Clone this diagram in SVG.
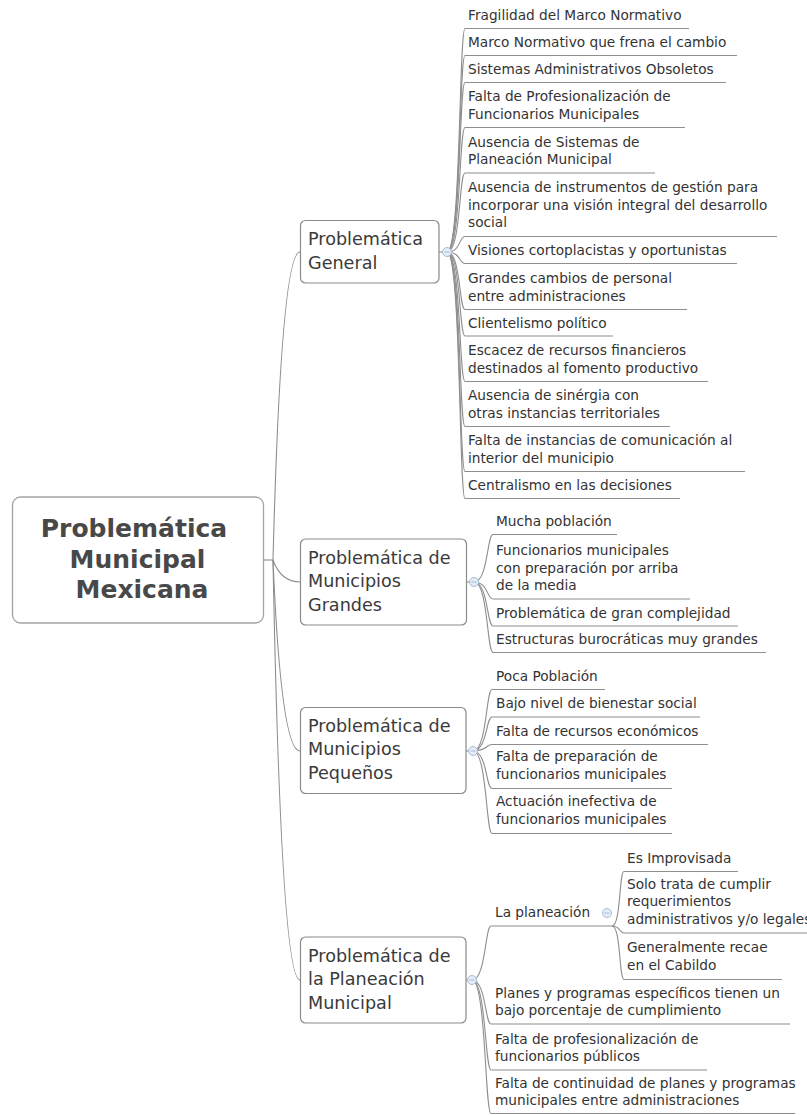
<svg xmlns="http://www.w3.org/2000/svg" width="807" height="1115" viewBox="0 0 807 1115">
<defs>
<style>
.bg{fill:#ffffff}
.box{fill:#ffffff;stroke:#8a8a8a;stroke-width:1.2}
.root{fill:#ffffff;stroke:#a3a3a3;stroke-width:1.3}
.ln{fill:none;stroke:#8e8e8e;stroke-width:1.1}
.rt{font-family:"DejaVu Sans","Liberation Sans",sans-serif;font-size:25px;font-weight:bold;fill:#484848;text-anchor:middle}
.bt{font-family:"DejaVu Sans","Liberation Sans",sans-serif;font-size:17.6px;fill:#3a3a3a}
.lt{font-family:"DejaVu Sans","Liberation Sans",sans-serif;font-size:13.7px;fill:#333333}
.dot{fill:#e4ecf6;stroke:#a6bcd8;stroke-width:1}
.dm{stroke:#a6bcd8;stroke-width:1}
</style>
</defs>
<rect class="bg" x="0" y="0" width="807" height="1115"/>

<g id="connectors">
<path class="ln" d="M263,560 H273"/>
<path class="ln" d="M273,560 Q281,252 300,252"/>
<path class="ln" d="M273,560 Q281,582 300,582"/>
<path class="ln" d="M273,560 Q281,751 300,751"/>
<path class="ln" d="M273,560 Q281,980 300,980"/>
<path class="ln" d="M439,252 H447"/>
<path class="ln" d="M466,582 H474"/>
<path class="ln" d="M466,751 H473"/>
<path class="ln" d="M466,980 H472"/>
<path class="ln" d="M447,252 C461,252 459,28.5 465,28.5 H689"/>
<path class="ln" d="M447,252 C461,252 459,55.5 465,55.5 H737"/>
<path class="ln" d="M447,252 C461,252 459,82.5 465,82.5 H726"/>
<path class="ln" d="M447,252 C461,252 459,127.5 465,127.5 H685"/>
<path class="ln" d="M447,252 C461,252 459,173 465,173 H655"/>
<path class="ln" d="M447,252 C461,252 459,236.5 465,236.5 H777"/>
<path class="ln" d="M447,252 C461,252 459,263.5 465,263.5 H737"/>
<path class="ln" d="M447,252 C461,252 459,309.5 465,309.5 H687"/>
<path class="ln" d="M447,252 C461,252 459,336 465,336 H613"/>
<path class="ln" d="M447,252 C461,252 459,381.5 465,381.5 H708"/>
<path class="ln" d="M447,252 C461,252 459,426.5 465,426.5 H670"/>
<path class="ln" d="M447,252 C461,252 459,471.5 465,471.5 H745"/>
<path class="ln" d="M447,252 C461,252 459,498.5 465,498.5 H680"/>
<path class="ln" d="M474,582 C488,582 487,534.5 493,534.5 H617"/>
<path class="ln" d="M474,582 C488,582 487,599 493,599 H690"/>
<path class="ln" d="M474,582 C488,582 487,626 493,626 H738"/>
<path class="ln" d="M474,582 C488,582 487,652.5 493,652.5 H766"/>
<path class="ln" d="M473,751 C487,751 486,689.5 492,689.5 H605"/>
<path class="ln" d="M473,751 C487,751 486,717 492,717 H700"/>
<path class="ln" d="M473,751 C487,751 486,744.5 492,744.5 H708"/>
<path class="ln" d="M473,751 C487,751 486,788.5 492,788.5 H672"/>
<path class="ln" d="M473,751 C487,751 486,833.5 492,833.5 H672"/>
<path class="ln" d="M472,980 C486,980 485,926 491,926 H612"/>
<path class="ln" d="M472,980 C486,980 485,1024 491,1024 H790"/>
<path class="ln" d="M472,980 C486,980 485,1070 491,1070 H707"/>
<path class="ln" d="M472,980 C486,980 485,1113.5 491,1113.5 H795"/>
<path class="ln" d="M612,926 C621,926 619,871.5 624,871.5 H738"/>
<path class="ln" d="M612,926 C621,926 619,933 624,933 H815"/>
<path class="ln" d="M612,926 C621,926 619,979.5 624,979.5 H782"/>
</g>

<g id="root">
<rect class="root" x="12.5" y="497" width="251" height="126" rx="8"/>
<text class="rt" x="134" y="537">Problemática</text>
<text class="rt" x="137.5" y="568">Municipal</text>
<text class="rt" x="142" y="598">Mexicana</text>
</g>

<g id="general">
<rect class="box" x="300.5" y="220.5" width="138.5" height="62.5" rx="5"/>
<text class="bt" x="308" y="245">Problemática</text>
<text class="bt" x="308" y="268.5">General</text>
<circle class="dot" cx="447" cy="252" r="4.5"/><path class="dm" d="M444.5,252 H449.5"/>
</g>

<g id="grandes">
<rect class="box" x="300.5" y="539" width="166" height="86" rx="5"/>
<text class="bt" x="308" y="563.5">Problemática de</text>
<text class="bt" x="308" y="587">Municipios</text>
<text class="bt" x="308" y="610.5">Grandes</text>
<circle class="dot" cx="474" cy="582" r="4.5"/><path class="dm" d="M471.5,582 H476.5"/>
</g>

<g id="pequenos">
<rect class="box" x="300.5" y="707.5" width="165.5" height="86" rx="5"/>
<text class="bt" x="308" y="731.5">Problemática de</text>
<text class="bt" x="308" y="755">Municipios</text>
<text class="bt" x="308" y="778.5">Pequeños</text>
<circle class="dot" cx="473" cy="751" r="4.5"/><path class="dm" d="M470.5,751 H475.5"/>
</g>

<g id="planeacion">
<rect class="box" x="300.5" y="937" width="165.5" height="86" rx="5"/>
<text class="bt" x="308" y="961.5">Problemática de</text>
<text class="bt" x="308" y="985">la Planeación</text>
<text class="bt" x="308" y="1008.5">Municipal</text>
<circle class="dot" cx="472" cy="980" r="4.5"/><path class="dm" d="M469.5,980 H474.5"/>
</g>

<g id="general-leaves">
<text class="lt" x="468" y="20">Fragilidad del Marco Normativo</text>
<text class="lt" x="468" y="47">Marco Normativo que frena el cambio</text>
<text class="lt" x="468" y="74">Sistemas Administrativos Obsoletos</text>
<text class="lt" x="468" y="101">Falta de Profesionalización de</text>
<text class="lt" x="468" y="118.5">Funcionarios Municipales</text>
<text class="lt" x="468" y="146.5">Ausencia de Sistemas de</text>
<text class="lt" x="468" y="164">Planeación Municipal</text>
<text class="lt" x="468" y="192">Ausencia de instrumentos de gestión para</text>
<text class="lt" x="468" y="209.5">incorporar una visión integral del desarrollo</text>
<text class="lt" x="468" y="227">social</text>
<text class="lt" x="468" y="255">Visiones cortoplacistas y oportunistas</text>
<text class="lt" x="468" y="283">Grandes cambios de personal</text>
<text class="lt" x="468" y="300.5">entre administraciones</text>
<text class="lt" x="468" y="327.5">Clientelismo político</text>
<text class="lt" x="468" y="355">Escacez de recursos financieros</text>
<text class="lt" x="468" y="372.5">destinados al fomento productivo</text>
<text class="lt" x="468" y="400">Ausencia de sinérgia con</text>
<text class="lt" x="468" y="417.5">otras instancias territoriales</text>
<text class="lt" x="468" y="445">Falta de instancias de comunicación al</text>
<text class="lt" x="468" y="462.5">interior del municipio</text>
<text class="lt" x="468" y="490">Centralismo en las decisiones</text>
</g>

<g id="grandes-leaves">
<text class="lt" x="496" y="526">Mucha población</text>
<text class="lt" x="496" y="555">Funcionarios municipales</text>
<text class="lt" x="496" y="572.5">con preparación por arriba</text>
<text class="lt" x="496" y="590">de la media</text>
<text class="lt" x="496" y="617.5">Problemática de gran complejidad</text>
<text class="lt" x="496" y="644">Estructuras burocráticas muy grandes</text>
</g>

<g id="pequenos-leaves">
<text class="lt" x="496" y="680.5">Poca Población</text>
<text class="lt" x="496" y="708">Bajo nivel de bienestar social</text>
<text class="lt" x="496" y="735.5">Falta de recursos económicos</text>
<text class="lt" x="496" y="761">Falta de preparación de</text>
<text class="lt" x="496" y="779">funcionarios municipales</text>
<text class="lt" x="496" y="806">Actuación inefectiva de</text>
<text class="lt" x="496" y="824">funcionarios municipales</text>
</g>

<g id="la-planeacion">
<text class="lt" x="495" y="916.5">La planeación</text>
<circle class="dot" cx="607" cy="913" r="4.5"/><path class="dm" d="M604.5,913 H609.5"/>
</g>

<g id="la-planeacion-leaves">
<text class="lt" x="627" y="862.5">Es Improvisada</text>
<text class="lt" x="627" y="888.5">Solo trata de cumplir</text>
<text class="lt" x="627" y="906">requerimientos</text>
<text class="lt" x="627" y="923.5">administrativos y/o legales</text>
<text class="lt" x="627" y="952">Generalmente recae</text>
<text class="lt" x="627" y="969.5">en el Cabildo</text>
</g>

<g id="planeacion-leaves">
<text class="lt" x="495" y="997.5">Planes y programas específicos tienen un</text>
<text class="lt" x="495" y="1015">bajo porcentaje de cumplimiento</text>
<text class="lt" x="495" y="1043.5">Falta de profesionalización de</text>
<text class="lt" x="495" y="1061">funcionarios públicos</text>
<text class="lt" x="495" y="1087.5">Falta de continuidad de planes y programas</text>
<text class="lt" x="495" y="1105">municipales entre administraciones</text>
</g>
</svg>
